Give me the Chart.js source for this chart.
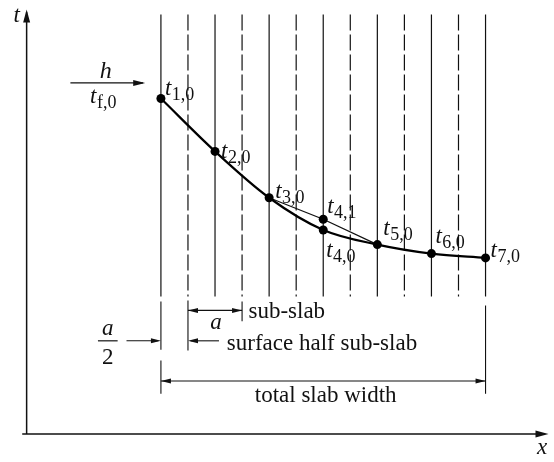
<!DOCTYPE html>
<html>
<head>
<meta charset="utf-8">
<script src="https://cdn.jsdelivr.net/npm/chart.js@4.4.1/dist/chart.umd.min.js"></script>
<style>
    html, body { margin: 0; padding: 0; background: #fff; }
    #wrap { width: 554px; height: 462px; }
</style>
</head>
<body>
<div id="wrap"><canvas id="slab-chart" width="554" height="462"></canvas></div>
<script>
// Node positions through the slab, in sub-slab widths a (surface node at 0)
const nodeX = [0, 1, 2, 3, 4, 5, 6];
// Temperatures at time step 0 (arbitrary units)
const nodeT = [78.1, 65.8, 55.0, 47.5, 44.1, 42.0, 41.0];
const nodeLabels = ['1,0', '2,0', '3,0', '4,0', '5,0', '6,0', '7,0'];

// New temperature at node 4 after one step, joined to its neighbours
const stepX = [2, 3, 4];
const stepT = [55.0, 50.0, 44.1];
const stepLabels = ['', '4,1', ''];

// Sub-slab boundaries (dashed) lie half-way between the nodes
const boundaryX = [0.5, 1.5, 2.5, 3.5, 4.5, 5.5];
const slabTop = 97.7;
const slabBottom = 32.0;

// Axis ranges
const xRange = [-2.891, 7.182];
const tRange = [-5.479, 100];

const SERIF = '"Liberation Serif", "DejaVu Serif", serif';
const INK = '#111';

function arrowHead(ctx, x1, y1, x2, y2, len, half) {
    const ang = Math.atan2(y2 - y1, x2 - x1);
    const c = Math.cos(ang), s = Math.sin(ang);
    ctx.beginPath();
    ctx.moveTo(x2, y2);
    ctx.lineTo(x2 - len * c + half * s, y2 - len * s - half * c);
    ctx.lineTo(x2 - len * c - half * s, y2 - len * s + half * c);
    ctx.closePath();
    ctx.fill();
}

function line(ctx, x1, y1, x2, y2, w) {
    ctx.lineWidth = w;
    ctx.beginPath();
    ctx.moveTo(x1, y1);
    ctx.lineTo(x2, y2);
    ctx.stroke();
}

// italic t with an upright subscript
function subLabel(ctx, x, y, main, sub, mainSize, subSize) {
    ctx.textAlign = 'left';
    ctx.font = `italic ${mainSize}px ${SERIF}`;
    ctx.fillText(main, x, y);
    const w = ctx.measureText(main).width;
    ctx.font = `${subSize}px ${SERIF}`;
    ctx.fillText(sub, x + w + 0.5, y + 5);
}

/**
 * Draws axes, dimension arrows and all text on top of the datasets
 */
const annotations = {
    id: 'annotations',
    afterDatasetsDraw(chart) {
        const ctx = chart.ctx;
        const X = v => chart.scales.x.getPixelForValue(v);
        const Y = v => chart.scales.y.getPixelForValue(v);

        ctx.save();
        ctx.strokeStyle = INK;
        ctx.fillStyle = INK;
        ctx.textBaseline = 'alphabetic';

        // axes
        line(ctx, X(-2.482), Y(0), X(-2.482), Y(98.2), 1.5);
        arrowHead(ctx, X(-2.482), Y(50), X(-2.482), Y(98.86), 13, 3.5);
        line(ctx, X(-2.5636), Y(0), X(7.10), Y(0), 1.5);
        arrowHead(ctx, X(0), Y(0), X(7.1636), Y(0), 13, 3.5);
        ctx.font = `italic 23px ${SERIF}`;
        ctx.textAlign = 'center';
        ctx.fillText('t', X(-2.664), Y(95.89));
        ctx.fillText('x', X(7.045), Y(-4.566));

        // heat transfer coefficient and fluid temperature
        line(ctx, X(-1.673), Y(81.74), X(-0.33), Y(81.74), 1.2);
        arrowHead(ctx, X(-1.673), Y(81.74), X(-0.291), Y(81.74), 12, 3);
        ctx.textAlign = 'center';
        ctx.font = `italic 24px ${SERIF}`;
        ctx.fillText('h', X(-1.018), Y(82.88));
        subLabel(ctx, X(-1.31), Y(77.17), 't', 'f,0', 23, 18);

        // extension lines for the dimensions
        ctx.setLineDash([]);
        line(ctx, X(0), Y(30.82), X(0), Y(19.63), 1.1);
        line(ctx, X(0), Y(17.12), X(0), Y(9.36), 1.1);
        line(ctx, X(0.5), Y(31.05), X(0.5), Y(19.41), 1.1);
        line(ctx, X(1.5), Y(30.82), X(1.5), Y(26.26), 1.1);
        line(ctx, X(6), Y(29.91), X(6), Y(9.36), 1.1);

        // sub-slab width a
        line(ctx, X(0.5), Y(28.77), X(1.5), Y(28.77), 1.1);
        arrowHead(ctx, X(1), Y(28.77), X(0.5), Y(28.77), 10, 2.5);
        arrowHead(ctx, X(1), Y(28.77), X(1.5), Y(28.77), 10, 2.5);
        ctx.font = `23px ${SERIF}`;
        ctx.textAlign = 'left';
        ctx.fillText('sub-slab', X(1.618), Y(26.94));
        ctx.font = `italic 23px ${SERIF}`;
        ctx.textAlign = 'center';
        ctx.fillText('a', X(1.018), Y(24.43));

        // surface half sub-slab, a/2
        line(ctx, X(-0.636), Y(21.69), X(-0.05), Y(21.69), 1.1);
        arrowHead(ctx, X(-0.636), Y(21.69), X(0), Y(21.69), 10, 2.5);
        line(ctx, X(1.073), Y(21.69), X(0.55), Y(21.69), 1.1);
        arrowHead(ctx, X(1.073), Y(21.69), X(0.5), Y(21.69), 10, 2.5);
        ctx.font = `23px ${SERIF}`;
        ctx.textAlign = 'left';
        ctx.fillText('surface half sub-slab', X(1.218), Y(19.63));
        ctx.font = `italic 23px ${SERIF}`;
        ctx.textAlign = 'center';
        ctx.fillText('a', X(-0.982), Y(23.06));
        line(ctx, X(-1.164), Y(21.69), X(-0.8), Y(21.69), 1.2);
        ctx.font = `23px ${SERIF}`;
        ctx.fillText('2', X(-0.982), Y(16.21));

        // total slab width
        line(ctx, X(0), Y(12.33), X(6), Y(12.33), 1.1);
        arrowHead(ctx, X(3), Y(12.33), X(0), Y(12.33), 10, 2.5);
        arrowHead(ctx, X(3), Y(12.33), X(6), Y(12.33), 10, 2.5);
        ctx.fillText('total slab width', X(3.045), Y(7.53));

        // node labels, placed next to the drawn points
        const nodeOffsets = [[4, -4], [6, 7], [6, 0], [3, 27], [6, -10], [4, -11], [5, -1]];
        const curve = chart.getDatasetMeta(chart.data.datasets.length - 1).data;
        curve.forEach((pt, i) => {
            const [dx, dy] = nodeOffsets[i];
            subLabel(ctx, pt.x + dx, pt.y + dy, 't', nodeLabels[i], 23, 18);
        });
        const step = chart.getDatasetMeta(chart.data.datasets.length - 2).data;
        step.forEach((pt, i) => {
            if (!stepLabels[i]) return;
            subLabel(ctx, pt.x + 4, pt.y - 6, 't', stepLabels[i], 23, 18);
        });

        ctx.restore();
    }
};

function slabLine(x, dashed) {
    return {
        data: [{ x: x, y: slabTop }, { x: x, y: slabBottom }],
        showLine: true,
        borderColor: INK,
        borderWidth: 1.2,
        borderDash: dashed ? [16, 4] : [],
        pointRadius: 0,
        order: 2
    };
}

const datasets = [
    ...nodeX.map(x => slabLine(x, false)),
    ...boundaryX.map(x => slabLine(x, true)),
    {
        data: stepX.map((x, i) => ({ x: x, y: stepT[i] })),
        showLine: true,
        borderColor: INK,
        borderWidth: 1.3,
        tension: 0,
        pointRadius: stepLabels.map(l => l ? 4.5 : 0),
        pointBackgroundColor: '#000',
        pointBorderWidth: 0,
        order: 1
    },
    {
        data: nodeX.map((x, i) => ({ x: x, y: nodeT[i] })),
        showLine: true,
        borderColor: '#000',
        borderWidth: 2.2,
        cubicInterpolationMode: 'monotone',
        pointRadius: 4.5,
        pointBackgroundColor: '#000',
        pointBorderWidth: 0,
        order: 0
    }
];

new Chart(document.getElementById('slab-chart'), {
    type: 'scatter',
    data: { datasets: datasets },
    options: {
        responsive: false,
        animation: false,
        events: [],
        layout: { padding: 0 },
        plugins: {
            legend: { display: false },
            tooltip: { enabled: false }
        },
        scales: {
            x: { type: 'linear', min: xRange[0], max: xRange[1], display: false },
            y: { type: 'linear', min: tRange[0], max: tRange[1], display: false }
        }
    },
    plugins: [annotations]
});
</script>
</body>
</html>
